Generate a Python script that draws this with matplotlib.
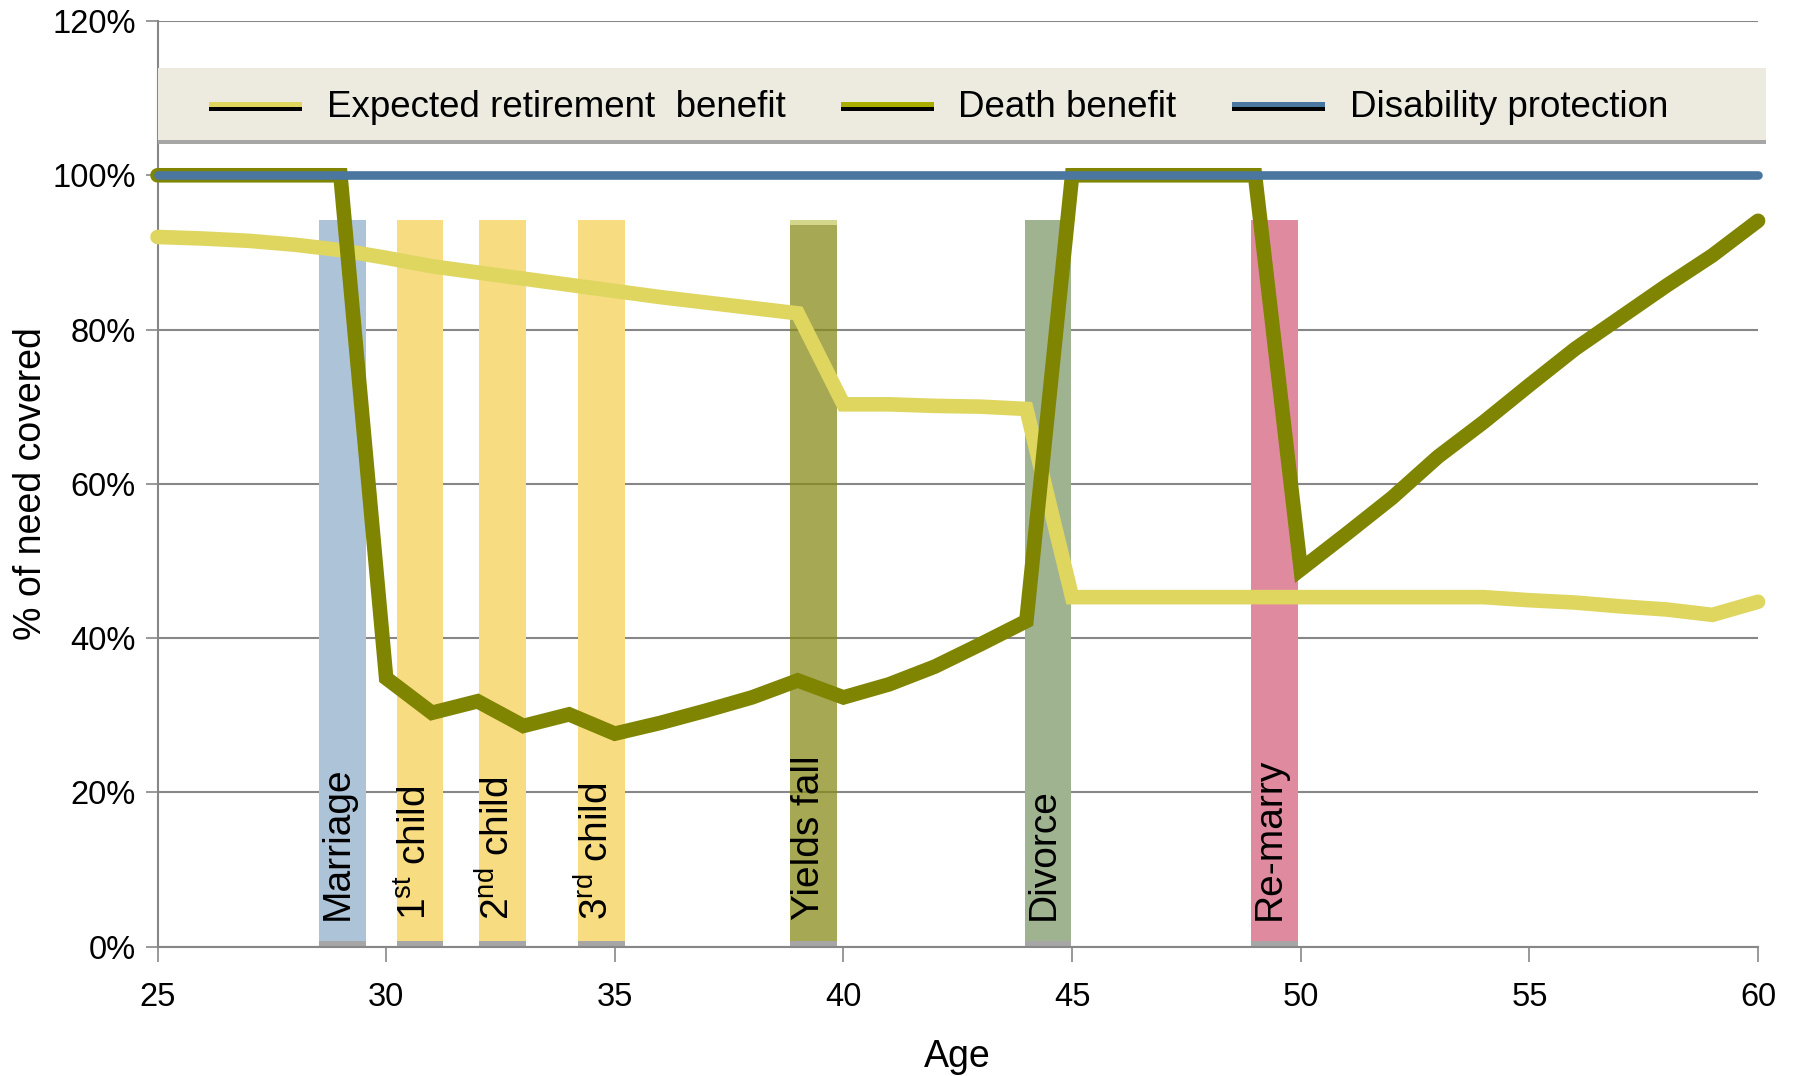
import matplotlib
matplotlib.use("Agg")
import matplotlib.pyplot as plt
import matplotlib.patheffects as pe
from matplotlib.lines import Line2D
from matplotlib.patches import Rectangle

plt.rcParams["font.family"] = ["Liberation Sans", "DejaVu Sans"]
plt.rcParams["mathtext.fontset"] = "custom"
plt.rcParams["mathtext.rm"] = "Liberation Sans"
plt.rcParams["mathtext.it"] = "Liberation Sans:italic"
plt.rcParams["mathtext.bf"] = "Liberation Sans:bold"

# coverage by age, % of need
ages = list(range(25, 61))
retirement = [92.0, 91.8, 91.5, 91.0, 90.3, 89.3, 88.2, 87.4, 86.6, 85.8,
              85.0, 84.2, 83.5, 82.8, 82.1, 70.3, 70.3, 70.1, 70.0, 69.7,
              45.3, 45.3, 45.3, 45.3, 45.3, 45.3, 45.3, 45.3, 45.3, 45.3,
              44.9, 44.6, 44.1, 43.7, 43.0, 44.7]
death = [100, 100, 100, 100, 100, 34.8, 30.3, 31.8, 28.6, 30.1,
         27.6, 29.0, 30.6, 32.3, 34.5, 32.3, 34.0, 36.3, 39.2, 42.2,
         100, 100, 100, 100, 100, 48.9, 53.5, 58.2, 63.5, 68.0,
         72.8, 77.5, 81.6, 85.7, 89.6, 94.1]
disability = [100] * len(ages)

# life events shown as columns
event_names = ["Marriage", r"1$^{\mathrm{st}}$ child", r"2$^{\mathrm{nd}}$ child",
               r"3$^{\mathrm{rd}}$ child", "Yields fall", "Divorce", "Re-marry"]
event_age = [29.05, 30.74, 32.55, 34.71, 39.34, 44.47, 49.42]
event_height = 94.2

EVENT_COLORS = ["#adc3d8", "#f8dc82", "#f8dc82", "#f8dc82", "#888b1a", "#9fb390", "#e08a9f"]
RET_COLOR = "#dfd660"
DEATH_COLOR = "#7f8500"
DIS_COLOR = "#4a76a0"
GRID = "#878787"

fig = plt.figure(figsize=(18, 10.76), dpi=100)
ax = fig.add_axes([0.0875, 0.12035, 0.8892, 0.8601])

for name, x, col in zip(event_names, event_age, EVENT_COLORS):
    alpha = 0.75 if name == "Yields fall" else 1.0
    ax.bar(x, event_height, width=1.02, color=col, alpha=alpha, zorder=1)
    ax.bar(x, 0.7, width=1.02, color="#a6a6a6", zorder=1.5)
    if name == "Yields fall":
        ax.bar(x, 0.7, bottom=event_height - 0.7, width=1.02, color="#d4d68c", zorder=1.5)
    ax.text(x - 0.1, 3.4, name, rotation=90, ha="center", va="bottom",
            fontsize=28, zorder=5)

line_kw = dict(solid_capstyle="round", solid_joinstyle="miter", clip_on=False)
ax.plot(ages, retirement, color=RET_COLOR, lw=10.5, zorder=3, **line_kw)
ax.plot(ages, death, color=DEATH_COLOR, lw=10.5, zorder=3.5, **line_kw)
ax.plot(ages, disability, color=DIS_COLOR, lw=6.2, zorder=4, **line_kw)

ax.set_xlim(25, 60)
ax.set_ylim(0, 120)
ax.set_xticks(range(25, 61, 5))
ax.set_yticks(range(0, 121, 20))
ax.set_yticklabels([f"{v}%" for v in range(0, 121, 20)])
ax.yaxis.grid(True, color=GRID, lw=1.5)
ax.set_axisbelow(True)
for side in ("top", "right"):
    ax.spines[side].set_visible(False)
for side in ("left", "bottom"):
    ax.spines[side].set_color(GRID)
    ax.spines[side].set_linewidth(1.5)
ax.tick_params(axis="x", direction="out", length=11, width=1.2, color=GRID,
               labelsize=23.5, pad=14.5)
ax.tick_params(axis="y", direction="out", length=8.6, width=1.2, color=GRID,
               labelsize=23.5, pad=7)

ax.set_xlabel("Age", fontsize=27)
ax.xaxis.set_label_coords(0.5, -0.1)
ax.set_ylabel("% of need covered", fontsize=27)
ax.yaxis.set_label_coords(-0.0676, 0.5)

# legend band with a grey strip underneath
ax.add_patch(Rectangle((0, 0.8714), 1.005, 0.0778, transform=ax.transAxes,
                       facecolor="#edebe0", edgecolor="none", clip_on=False, zorder=6))
ax.add_patch(Rectangle((0, 0.8671), 1.005, 0.0043, transform=ax.transAxes,
                       facecolor="#a6a6a6", edgecolor="none", clip_on=False, zorder=6))

shadow = [pe.SimpleLineShadow(offset=(0, -3), shadow_color="black", alpha=1.0), pe.Normal()]
handles = [Line2D([], [], color=c, lw=3.6, path_effects=shadow)
           for c in (RET_COLOR, "#a8ad00", DIS_COLOR)]
leg = ax.legend(handles, ["Expected retirement  benefit", "Death benefit", "Disability protection"],
                loc="center", bbox_to_anchor=(0.4885, 0.9067), ncol=3, frameon=False,
                fontsize=26.5, handlelength=2.4, handletextpad=0.75, columnspacing=1.55)
leg.set_zorder(7)

fig.savefig("out.png", dpi=100)
